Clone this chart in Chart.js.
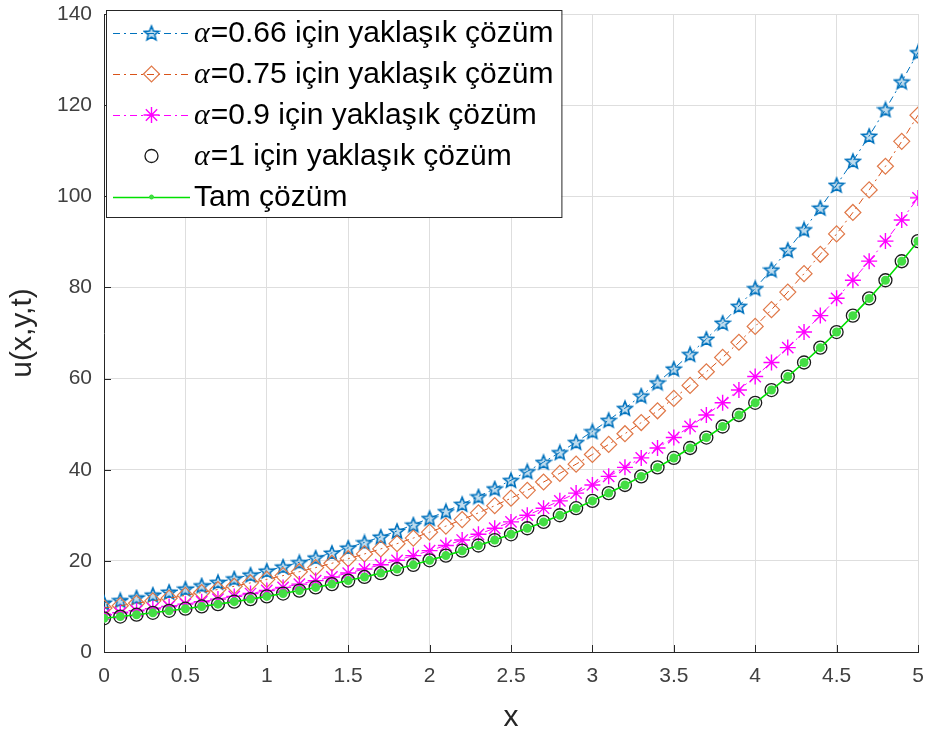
<!DOCTYPE html>
<html>
<head>
<meta charset="utf-8">
<script src="https://cdn.jsdelivr.net/npm/chart.js@4.4.1/dist/chart.umd.min.js"></script>
<style>
  html, body { margin: 0; padding: 0; background: #fff; }
  #wrap { width: 928px; height: 740px; position: relative; }
</style>
</head>
<body>
<div id="wrap"><canvas id="chart"></canvas></div>
<script>
// x grid of the solution (0 .. 5, step 0.1)
const xValues = [0, 0.1, 0.2, 0.3, 0.4, 0.5, 0.6, 0.7, 0.8, 0.9,
  1, 1.1, 1.2, 1.3, 1.4, 1.5, 1.6, 1.7, 1.8, 1.9,
  2, 2.1, 2.2, 2.3, 2.4, 2.5, 2.6, 2.7, 2.8, 2.9,
  3, 3.1, 3.2, 3.3, 3.4, 3.5, 3.6, 3.7, 3.8, 3.9,
  4, 4.1, 4.2, 4.3, 4.4, 4.5, 4.6, 4.7, 4.8, 4.9, 5];

// values
const alpha066 = [10.80, 11.35, 11.94, 12.55, 13.19, 13.87, 14.58, 15.33, 16.11, 16.94,
  17.81, 18.72, 19.68, 20.69, 21.75, 22.86, 24.04, 25.27, 26.56, 27.93,
  29.36, 30.86, 32.45, 34.11, 35.86, 37.70, 39.63, 41.66, 43.80, 46.04,
  48.40, 50.88, 53.49, 56.24, 59.12, 62.15, 65.34, 68.69, 72.21, 75.91,
  79.80, 83.89, 88.19, 92.72, 97.47, 102.47, 107.72, 113.24, 119.05, 125.15, 131.57];

const alpha075 = [9.67, 10.17, 10.69, 11.23, 11.81, 12.42, 13.05, 13.72, 14.43, 15.17,
  15.94, 16.76, 17.62, 18.52, 19.47, 20.47, 21.52, 22.62, 23.78, 25.00,
  26.29, 27.63, 29.05, 30.54, 32.11, 33.75, 35.48, 37.30, 39.21, 41.22,
  43.34, 45.56, 47.90, 50.35, 52.93, 55.65, 58.50, 61.50, 64.65, 67.97,
  71.45, 75.12, 78.97, 83.02, 87.27, 91.75, 96.45, 101.40, 106.59, 112.06, 117.80];

const alpha09 = [8.18, 8.60, 9.04, 9.50, 9.99, 10.50, 11.04, 11.61, 12.20, 12.83,
  13.49, 14.18, 14.90, 15.67, 16.47, 17.32, 18.20, 19.14, 20.12, 21.15,
  22.24, 23.38, 24.57, 25.83, 27.16, 28.55, 30.02, 31.55, 33.17, 34.87,
  36.66, 38.54, 40.52, 42.59, 44.78, 47.07, 49.49, 52.02, 54.69, 57.49,
  60.44, 63.54, 66.80, 70.22, 73.82, 77.61, 81.59, 85.77, 90.17, 94.79, 99.65];

const alpha1 = [7.40, 7.78, 8.18, 8.60, 9.04, 9.50, 9.99, 10.50, 11.04, 11.61,
  12.20, 12.83, 13.48, 14.17, 14.90, 15.67, 16.47, 17.31, 18.20, 19.13,
  20.12, 21.15, 22.23, 23.37, 24.57, 25.83, 27.15, 28.54, 30.01, 31.55,
  33.16, 34.87, 36.65, 38.53, 40.51, 42.58, 44.77, 47.06, 49.48, 52.01,
  54.68, 57.48, 60.43, 63.53, 66.79, 70.21, 73.81, 77.59, 81.57, 85.75, 90.15];

const exact = [7.40, 7.78, 8.18, 8.60, 9.04, 9.50, 9.99, 10.50, 11.04, 11.61,
  12.20, 12.83, 13.48, 14.17, 14.90, 15.67, 16.47, 17.31, 18.20, 19.13,
  20.12, 21.15, 22.23, 23.37, 24.57, 25.83, 27.15, 28.54, 30.01, 31.55,
  33.16, 34.87, 36.65, 38.53, 40.51, 42.58, 44.77, 47.06, 49.48, 52.01,
  54.68, 57.48, 60.43, 63.53, 66.79, 70.21, 73.81, 77.59, 81.57, 85.75, 90.15];

const legendGreek = ['\u03b1', '\u03b1', '\u03b1', '\u03b1', ''];
const legendText = ['=0.66 için yaklaşık çözüm', '=0.75 için yaklaşık çözüm',
  '=0.9 için yaklaşık çözüm', '=1 için yaklaşık çözüm', 'Tam çözüm'];

const FONT = '"Liberation Sans", Arial, sans-serif';

function toPts(vals) {
  return vals.map((v, i) => ({ x: xValues[i], y: v }));
}

// MATLAB style pentagram marker
function makeStar(color) {
  const c = document.createElement('canvas');
  c.width = 18; c.height = 18;
  const g = c.getContext('2d');
  g.strokeStyle = color;
  g.fillStyle = 'rgba(0,114,189,0.25)';
  g.lineWidth = 1.6;
  g.beginPath();
  for (let k = 0; k < 10; k++) {
    const r = k % 2 ? 3.4 : 7.6;
    const a = -Math.PI / 2 + k * Math.PI / 5;
    const px = 9 + r * Math.cos(a), py = 9.7 + r * Math.sin(a);
    if (k === 0) g.moveTo(px, py); else g.lineTo(px, py);
  }
  g.closePath();
  g.fill();
  g.stroke();
  return c;
}

const starImg = makeStar('#0072BD');
const dashDot = [7, 4, 2, 4];

const datasets = [
  { data: toPts(alpha066), borderColor: '#0072BD', borderWidth: 1, borderDash: dashDot,
    pointStyle: starImg, pointRadius: 8, order: 5 },
  { data: toPts(alpha075), borderColor: '#D95319', borderWidth: 1, borderDash: dashDot,
    pointStyle: 'rectRot', pointRadius: 8, pointBorderColor: '#E07848',
    pointBackgroundColor: 'rgba(0,0,0,0)', pointBorderWidth: 1.2, order: 4 },
  { data: toPts(alpha09), borderColor: '#FF00FF', borderWidth: 1, borderDash: dashDot,
    pointStyle: 'star', pointRadius: 8, pointBorderColor: '#FF00FF',
    pointBorderWidth: 1.4, order: 3 },
  { data: toPts(alpha1), showLine: false, borderColor: '#000000',
    pointStyle: 'circle', pointRadius: 6.5, pointBorderColor: '#1a1a1a',
    pointBackgroundColor: 'rgba(0,0,0,0)', pointBorderWidth: 1.3, order: 2 },
  { data: toPts(exact), borderColor: '#00E000', borderWidth: 1.6,
    pointStyle: 'circle', pointRadius: 4.5, pointBorderColor: '#33DD33',
    pointBackgroundColor: '#44DD44', pointBorderWidth: 0, order: 1 }
];

const matlabAxes = {
  id: 'matlabAxes',
  afterDraw(chart) {
    const { ctx, chartArea: a, scales: { x, y } } = chart;
    ctx.save();
    // inward ticks
    ctx.strokeStyle = '#262626';
    ctx.lineWidth = 1;
    ctx.beginPath();
    x.ticks.forEach(t => {
      const px = Math.round(x.getPixelForValue(t.value)) + 0.5;
      ctx.moveTo(px, a.bottom); ctx.lineTo(px, a.bottom - 7);
    });
    y.ticks.forEach(t => {
      const py = Math.round(y.getPixelForValue(t.value)) + 0.5;
      ctx.moveTo(a.left, py); ctx.lineTo(a.left + 7, py);
    });
    ctx.stroke();

    // legend box inside the axes
    const boxL = a.left + 2, boxT = 10, rowH = 41;
    const greekFont = 'italic 30px "Liberation Serif", "DejaVu Serif", serif';
    const textFont = '30px ' + FONT;
    const textX = boxL + 88;
    let maxW = 0;
    legendText.forEach((s, i) => {
      ctx.font = greekFont;
      let w = legendGreek[i] ? ctx.measureText(legendGreek[i]).width + 1 : 0;
      ctx.font = textFont;
      w += ctx.measureText(s).width;
      maxW = Math.max(maxW, w);
    });
    const boxW = textX - boxL + maxW + 8, boxH = rowH * 5 + 2;
    ctx.fillStyle = '#ffffff';
    ctx.fillRect(boxL, boxT, boxW, boxH);
    ctx.strokeStyle = '#262626';
    ctx.strokeRect(boxL + 0.5, boxT + 0.5, boxW, boxH);

    chart.data.datasets.forEach((ds, i) => {
      const cy = boxT + 23 + i * rowH;
      const lx0 = boxL + 7, lx1 = boxL + 84, mx = (lx0 + lx1) / 2;
      if (ds.showLine !== false) {
        ctx.save();
        ctx.strokeStyle = ds.borderColor;
        ctx.lineWidth = ds.borderWidth;
        ctx.setLineDash(ds.borderDash || []);
        ctx.beginPath();
        ctx.moveTo(lx0, cy + 0.5); ctx.lineTo(lx1, cy + 0.5);
        ctx.stroke();
        ctx.restore();
      }
      ctx.save();
      ctx.strokeStyle = ds.pointBorderColor || ds.borderColor;
      ctx.fillStyle = ds.pointBackgroundColor || 'rgba(0,0,0,0)';
      ctx.lineWidth = ds.pointBorderWidth || 1;
      const r = i === 4 ? 2 : ds.pointRadius;
      Chart.helpers.drawPoint(ctx, { pointStyle: ds.pointStyle, radius: r, rotation: 0,
        borderWidth: ctx.lineWidth }, mx, cy);
      ctx.restore();

      ctx.fillStyle = '#000000';
      ctx.textBaseline = 'middle';
      let tx = textX;
      if (legendGreek[i]) {
        ctx.font = greekFont;
        ctx.fillText(legendGreek[i], tx, cy + 1);
        tx += ctx.measureText(legendGreek[i]).width + 1;
      }
      ctx.font = textFont;
      ctx.fillText(legendText[i], tx, cy + 1);
    });
    ctx.restore();
  }
};

// let the layout padding alone decide where the plot box sits
function noLabelPadding(scale) {
  scale.paddingTop = 0; scale.paddingBottom = 0;
  scale.paddingLeft = 0; scale.paddingRight = 0;
}

new Chart(document.getElementById('chart'), {
  type: 'line',
  data: { datasets: datasets },
  options: {
    responsive: true,
    maintainAspectRatio: false,
    animation: false,
    layout: { padding: { top: 14, right: 10, left: 0, bottom: 0 } },
    plugins: { legend: { display: false }, tooltip: { enabled: false } },
    elements: { line: { fill: false, tension: 0 } },
    scales: {
      x: {
        type: 'linear', min: 0, max: 5,
        ticks: { stepSize: 0.5, color: '#404040', padding: 12, maxRotation: 0,
          font: { family: FONT, size: 21 },
          callback: v => String(Math.round(v * 10) / 10) },
        grid: { color: '#dedede', drawTicks: false },
        border: { color: '#262626', width: 1 },
        title: { display: true, text: 'x', color: '#262626',
          font: { family: FONT, size: 30 }, padding: { top: 4, bottom: 4 } },
        afterFit(scale) { scale.height = 88; noLabelPadding(scale); }
      },
      y: {
        type: 'linear', min: 0, max: 140,
        ticks: { stepSize: 20, color: '#404040', padding: 12,
          font: { family: FONT, size: 21 } },
        grid: { color: '#dedede', drawTicks: false },
        border: { color: '#262626', width: 1 },
        title: { display: true, text: 'u(x,y,t)', color: '#262626',
          font: { family: FONT, size: 30 }, padding: { top: 5, bottom: 5 } },
        afterFit(scale) { scale.width = 104; noLabelPadding(scale); }
      }
    }
  },
  plugins: [matlabAxes]
});
</script>
</body>
</html>
